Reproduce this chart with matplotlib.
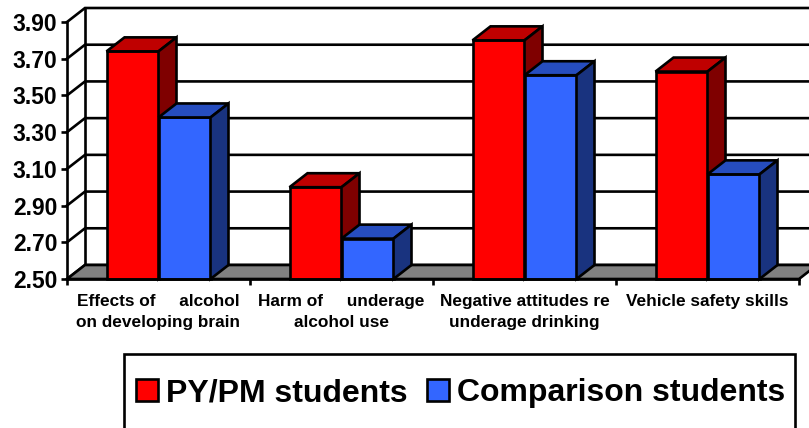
# grouped bars with a fake 3D box look
import matplotlib
matplotlib.use('Agg')
import matplotlib.pyplot as plt
from matplotlib.patches import Rectangle, Patch

categories = ['Effects of     alcohol\non developing brain',
              'Harm of     underage\nalcohol use',
              'Negative attitudes re\nunderage drinking',
              'Vehicle safety skills']
py_pm = [3.74, 3.00, 3.80, 3.63]
comparison = [3.38, 2.72, 3.61, 3.07]
y_ticks = [2.5, 2.7, 2.9, 3.1, 3.3, 3.5, 3.7, 3.9]
series_names = ['PY/PM students', 'Comparison students']

plt.rcParams['font.family'] = ['Liberation Sans', 'DejaVu Sans']
plt.rcParams['font.weight'] = 'bold'

# figure size in pixels, axes placed on the front plane of the box
W = 809
H = 428
left = 67
right = 799
bottom = 279
top = 22
lw = 1.9

fig = plt.figure(figsize=(W/100.0, H/100.0), dpi=100)
ax = fig.add_axes([left/W, 1.0-bottom/H, (right-left)/W, (bottom-top)/H])
ax.set_xlim(0, 4)
ax.set_ylim(2.5, 3.9)

# depth of the box, in data units
dx = 18.0/(right-left)*4
dy = 14.0/(bottom-top)*1.4
bar_w = 52.0/(right-left)*4

# back wall and its grid
for v in y_ticks:
    ax.plot([0, dx, 4+dx], [v, v+dy, v+dy], color='k', lw=lw, clip_on=False, zorder=1,
            solid_joinstyle='miter')
ax.plot([dx, dx], [2.5+dy, 3.9+dy], color='k', lw=lw, clip_on=False, zorder=1)

# floor
ax.fill([0, dx, 4+dx, 4], [2.5, 2.5+dy, 2.5+dy, 2.5], facecolor='#808080',
        edgecolor='k', lw=lw, clip_on=False, zorder=2)


def box(x, v, front, roof, side):
    ax.fill([x, x+bar_w, x+bar_w, x], [2.5, 2.5, v, v], facecolor=front,
            edgecolor='k', lw=lw, clip_on=False, zorder=3, joinstyle='miter')
    ax.fill([x, x+dx, x+bar_w+dx, x+bar_w], [v, v+dy, v+dy, v], facecolor=roof,
            edgecolor='k', lw=lw, clip_on=False, zorder=3, joinstyle='miter')
    ax.fill([x+bar_w, x+bar_w+dx, x+bar_w+dx, x+bar_w],
            [2.5, 2.5+dy, v+dy, v], facecolor=side,
            edgecolor='k', lw=lw, clip_on=False, zorder=3, joinstyle='miter')


for i in range(len(categories)):
    box(i+0.5-bar_w, py_pm[i], '#FF0000', '#BF0000', '#7F0000')
    box(i+0.5, comparison[i], '#3366FF', '#264DBF', '#19337F')

# axes
ax.patch.set_visible(False)
for s in ['top', 'right']:
    ax.spines[s].set_visible(False)
for s in ['left', 'bottom']:
    ax.spines[s].set_linewidth(lw)
    ax.spines[s].set_zorder(4)
ax.set_yticks(y_ticks)
ax.set_yticklabels(['%.2f' % v for v in y_ticks], fontsize=16.5, fontweight='bold')
ax.tick_params(axis='y', length=4, width=lw, pad=3)
ax.set_xticks([0, 1, 2, 3, 4])
ax.set_xticklabels([])
ax.tick_params(axis='x', which='major', length=4, width=lw)
ax.set_xticks([0.5, 1.5, 2.5, 3.5], minor=True)
ax.set_xticklabels(categories, minor=True, fontsize=12.4, fontweight='bold', linespacing=1.5)
ax.tick_params(axis='x', which='minor', length=0, pad=11)

# legend frame runs off the bottom of the picture
fig.add_artist(Rectangle((124/W, -0.05), (795-124)/W, 1.0-354/H+0.05, transform=fig.transFigure,
                         facecolor='w', edgecolor='k', lw=lw))
handles = [Patch(facecolor='#FF0000', edgecolor='k', lw=lw),
           Patch(facecolor='#3366FF', edgecolor='k', lw=lw)]
fig.legend(handles, series_names, ncol=2, frameon=False, fontsize=23,
           loc='center', bbox_to_anchor=(461/W, 1.0-393/H),
           handlelength=0.69, handleheight=0.69, handletextpad=0.25, columnspacing=0.6,
           borderpad=0, borderaxespad=0)

fig.savefig('out.png', dpi=100)
